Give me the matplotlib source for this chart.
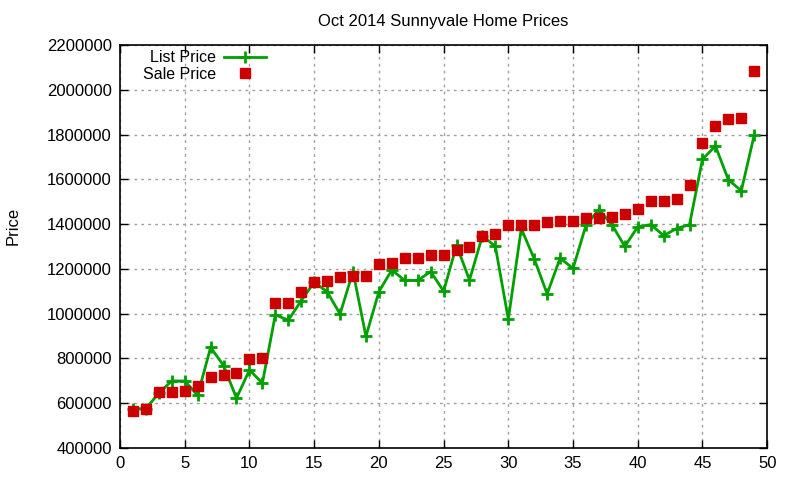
import matplotlib
matplotlib.use("Agg")
import matplotlib.pyplot as plt
from matplotlib.ticker import MultipleLocator, FuncFormatter

plt.rcParams['font.family'] = ['Liberation Sans', 'DejaVu Sans']

index = list(range(1, 50))
list_price = [575000, 575000, 645000, 699000, 699000, 635000, 849000, 768000, 622000, 748000,
              689000, 995000, 970000, 1058000, 1140000, 1098000, 998000, 1188000, 898000, 1098000,
              1195000, 1148000, 1148000, 1188000, 1100000, 1305000, 1150000, 1348000, 1300000, 975000,
              1380000, 1245000, 1088000, 1248000, 1202000, 1395000, 1465000, 1398000, 1300000, 1388000,
              1398000, 1349000, 1380000, 1398000, 1690000, 1749000, 1598000, 1549000, 1799000]
sale_price = [565000, 572000, 648000, 649000, 654000, 678000, 718000, 727000, 736000, 795000,
              800000, 1049000, 1049000, 1098000, 1143000, 1147000, 1165000, 1166000, 1166000, 1223000,
              1228000, 1250000, 1250000, 1260000, 1263000, 1286000, 1299000, 1349000, 1356000, 1397000,
              1397000, 1397000, 1411000, 1415000, 1415000, 1428000, 1428000, 1433000, 1447000, 1468000,
              1504000, 1504000, 1513000, 1576000, 1763000, 1840000, 1871000, 1875000, 2083000]

fig = plt.figure(figsize=(8, 4.8), dpi=100)
ax = fig.add_axes([0.15, 0.067, 0.809, 0.839])

green = '#00a000'
red = '#cc0000'
ax.plot(index, list_price, color=green, lw=2, marker='+', ms=9, mew=2, label='List Price', zorder=3)
ax.plot(index, sale_price, ls='none', color=red, marker='s', ms=7, label='Sale Price', zorder=4)

ax.set_xlim(0, 50)
ax.set_ylim(400000, 2200000)
ax.xaxis.set_major_locator(MultipleLocator(5))
ax.yaxis.set_major_locator(MultipleLocator(200000))
ax.yaxis.set_major_formatter(FuncFormatter(lambda v, p: f"{int(v)}"))
ax.tick_params(direction='in', top=True, right=True, length=6, width=1, labelsize=12, pad=6)
ax.grid(True, color='#a0a0a0', ls=(0, (2, 3)), lw=1)
for s in ax.spines.values():
    s.set_linewidth(1.2)

ax.set_title('Oct 2014 Sunnyvale Home Prices', fontsize=12, pad=14)
fig.text(0.016, 0.53, 'Price', rotation=90, fontsize=12, va='center', ha='center')

leg = ax.legend(loc='upper left', bbox_to_anchor=(0.026, 1.003), frameon=False, markerfirst=False,
                fontsize=11.5, handlelength=2.6, handletextpad=0.5, labelspacing=0.1,
                borderaxespad=0.0)
for t in leg.get_texts():
    t.set_ha('right')

fig.savefig('out.png', dpi=100)
